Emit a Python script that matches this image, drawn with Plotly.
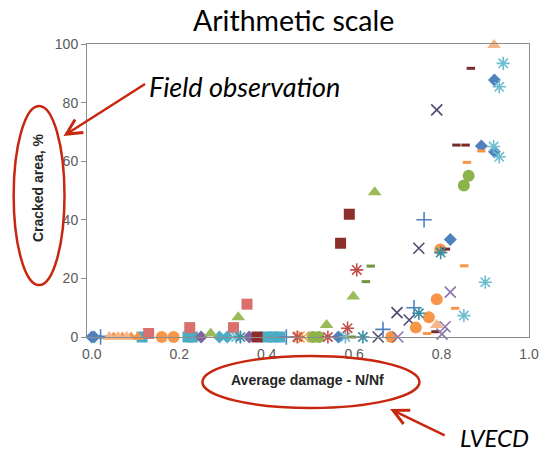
import plotly.graph_objects as go

# ---- data (x = average damage N/Nf, y = cracked area %) ----
s_blue_diamond_x = [0.0, 0.005, 0.564, 0.82, 0.891, 0.921, 0.921]
s_blue_diamond_y = [0, 0, 0, 33.3, 65.2, 63.2, 87.7]
s_pink_square_x = [0.13, 0.224, 0.324, 0.355]
s_pink_square_y = [1.2, 3.2, 3.2, 11.2]
s_green_tri_x = [0.272, 0.335, 0.537, 0.598, 0.647]
s_green_tri_y = [1.2, 6.7, 4.1, 13.8, 49.4]
s_slate_x_x = [0.655, 0.698, 0.726, 0.748, 0.789]
s_slate_x_y = [0, 8.3, 5.8, 30.3, 77.5]
s_aqua_ast_x = [0.33, 0.58, 0.851, 0.9, 0.919, 0.932, 0.932, 0.941]
s_aqua_ast_y = [0, 0, 7.3, 18.7, 65.0, 61.5, 85.4, 93.4]
s_orange_circ_x = [0.16, 0.187, 0.685, 0.741, 0.771, 0.789, 0.797]
s_orange_circ_y = [0, 0, 0, 3.2, 6.7, 12.9, 29.9]
s_blue_plus_x = [0.02, 0.445, 0.666, 0.737, 0.76]
s_blue_plus_y = [0, 0, 2.6, 10.0, 40.0]
s_darkred_dash_x = [0.786, 0.81, 0.834, 0.855, 0.867]
s_darkred_dash_y = [1.8, 30.0, 65.5, 65.5, 91.7]
s_orange_dash_x = [0.767, 0.831, 0.852, 0.858, 0.891]
s_orange_dash_y = [1.2, 9.8, 24.3, 59.6, 63.5]
s_green_dash_x = [0.595, 0.627, 0.638]
s_green_dash_y = [0, 18.9, 24.2]
s_darkred_sq_x = [0.378, 0.569, 0.589]
s_darkred_sq_y = [0, 32.0, 41.9]
s_green_circ_x = [0.506, 0.519, 0.851, 0.862]
s_green_circ_y = [0, 0, 51.7, 55.0]
s_peach_tri_x = [0.04, 0.06, 0.08, 0.789, 0.92]
s_peach_tri_y = [0, 0, 0, 4.1, 99.7]
s_teal_ast_x = [0.34, 0.62, 0.748, 0.798]
s_teal_ast_y = [0, 0, 8.1, 28.8]
s_red_ast_x = [0.47, 0.54, 0.585, 0.606]
s_red_ast_y = [0, 0, 3.0, 22.9]
s_purple_x_x = [0.70, 0.801, 0.808, 0.82]
s_purple_x_y = [0, 1.0, 3.5, 15.3]
s_teal_sq_x = [0.115, 0.22, 0.23, 0.40, 0.415, 0.43]
s_teal_sq_y = [0, 0, 0, 0, 0, 0]
s_orange_tri_x = [0.05, 0.07, 0.09, 0.105]
s_orange_tri_y = [0, 0, 0, 0]
s_purple_diam_x = [0.25, 0.36]
s_purple_diam_y = [0, 0]
s_aqua_diam_x = [0.292, 0.31]
s_aqua_diam_y = [0, 0]
s_blue_dash_x = [0.008, 0.014, 0.026]
s_blue_dash_y = [0, 0, 0]
s_orange_x_x = [0.474, 0.485]
s_orange_x_y = [0, 0]

x_ticks = [0.0, 0.2, 0.4, 0.6, 0.8, 1.0]
y_ticks = [0, 20, 40, 60, 80, 100]

series = [
    (s_teal_sq_x, s_teal_sq_y, "square", "#4BACC6", 11),
    (s_orange_tri_x, s_orange_tri_y, "triangle-up", "#F79646", 11),
    (s_purple_diam_x, s_purple_diam_y, "diamond", "#8064A2", 10),
    (s_aqua_diam_x, s_aqua_diam_y, "diamond", "#4BACC6", 10),
    (s_blue_dash_x, s_blue_dash_y, "line-ew", "#4F81BD", 6),
    (s_orange_x_x, s_orange_x_y, "x-thin", "#F79646", 11),
    (s_blue_diamond_x, s_blue_diamond_y, "diamond", "#4F81BD", 10),
    (s_pink_square_x, s_pink_square_y, "square", "#D9706E", 11),
    (s_green_tri_x, s_green_tri_y, "triangle-up", "#9BBB59", 12),
    (s_slate_x_x, s_slate_x_y, "x-thin", "#4D4A72", 11),
    (s_aqua_ast_x, s_aqua_ast_y, "asterisk", "#6FBDD1", 11),
    (s_orange_circ_x, s_orange_circ_y, "circle", "#F79646", 12),
    (s_blue_plus_x, s_blue_plus_y, "cross-thin", "#4F81BD", 11),
    (s_darkred_dash_x, s_darkred_dash_y, "line-ew", "#772C2A", 6),
    (s_orange_dash_x, s_orange_dash_y, "line-ew", "#F79646", 6),
    (s_green_dash_x, s_green_dash_y, "line-ew", "#77933C", 6),
    (s_darkred_sq_x, s_darkred_sq_y, "square", "#8B2E2C", 11),
    (s_green_circ_x, s_green_circ_y, "circle", "#8CB44A", 12),
    (s_peach_tri_x, s_peach_tri_y, "triangle-up", "#F7B58A", 12),
    (s_teal_ast_x, s_teal_ast_y, "asterisk", "#3A8FA4", 11),
    (s_red_ast_x, s_red_ast_y, "asterisk", "#C0504D", 11),
    (s_purple_x_x, s_purple_x_y, "x-thin", "#8B74AE", 11),
]

fig = go.Figure()
for xs, ys, sym, col, size in series:
    thin = sym in ("x-thin", "asterisk", "cross-thin", "line-ew")
    fig.add_trace(go.Scatter(
        x=xs, y=ys, mode="markers", cliponaxis=False, showlegend=False, hoverinfo="skip",
        marker=dict(symbol=sym, size=size, color=col,
                    line=dict(color=col, width=3 if sym == "line-ew" else (1.6 if thin else 0))),
    ))

axis_font = dict(family="Liberation Sans, Arial, sans-serif", size=14, color="#595959")
fig.update_layout(
    width=550, height=453,
    margin=dict(l=87, r=11, t=44, b=116),
    paper_bgcolor="white", plot_bgcolor="white",
    xaxis=dict(range=[-0.011, 1.0], tickvals=x_ticks, ticktext=[f"{v:.1f}" for v in x_ticks],
               showgrid=False, zeroline=False, showline=True, linecolor="#8C8C8C", linewidth=1,
               mirror=True, ticks="", tickfont=axis_font, ticklabelstandoff=4),
    yaxis=dict(range=[0, 100], tickvals=y_ticks, showgrid=False, zeroline=False,
               showline=True, linecolor="#8C8C8C", linewidth=1, mirror=True,
               ticks="outside", ticklen=5, tickcolor="#8C8C8C", tickfont=axis_font),
)

def px(X):
    return (X - 87) / 452

def py(Y):
    return (337 - Y) / 293

red = "#C8260E"
title_font = "Lato, Carlito, sans-serif"
arial = "Liberation Sans, Arial, sans-serif"
texts = [
    ("Arithmetic scale", 298, 20, title_font, 28.5, "black", 0),
    ("<i>Field observation</i>", 248, 86, title_font, 27, "black", 0),
    ("<i>LVECD</i>", 504, 437, title_font, 24, "black", 0),
    ("<b>Average damage - N/Nf</b>", 312, 380, arial, 14, "#262626", 0),
    ("<b>Cracked area, %</b>", 37, 188, arial, 14, "#262626", -90),
]
for t, X, Y, fam, sz, col, ang in texts:
    fig.add_annotation(text=t, xref="paper", yref="paper", x=px(X), y=py(Y),
                       xanchor="center", yanchor="middle", showarrow=False, textangle=ang,
                       font=dict(family=fam, size=sz, color=col))

# ellipses
fig.add_shape(type="circle", xref="paper", yref="paper", x0=px(12), x1=px(64), y0=py(285), y1=py(106),
              line=dict(color=red, width=2.5))
fig.add_shape(type="circle", xref="paper", yref="paper", x0=px(205), x1=px(427), y0=py(408), y1=py(356),
              line=dict(color=red, width=2.5))
# arrows
fig.add_annotation(text="", xref="paper", yref="paper", x=px(63), y=py(136), ax=83, ay=-53,
                   showarrow=True, arrowhead=5, arrowsize=1.2, arrowwidth=2.5, arrowcolor=red)
fig.add_annotation(text="", xref="paper", yref="paper", x=px(397), y=py(409), ax=56, ay=27,
                   showarrow=True, arrowhead=5, arrowsize=1.2, arrowwidth=2.5, arrowcolor=red)

fig.write_html("out.html", config={"displayModeBar": False},
               post_script="document.body.style.margin='0px';")
